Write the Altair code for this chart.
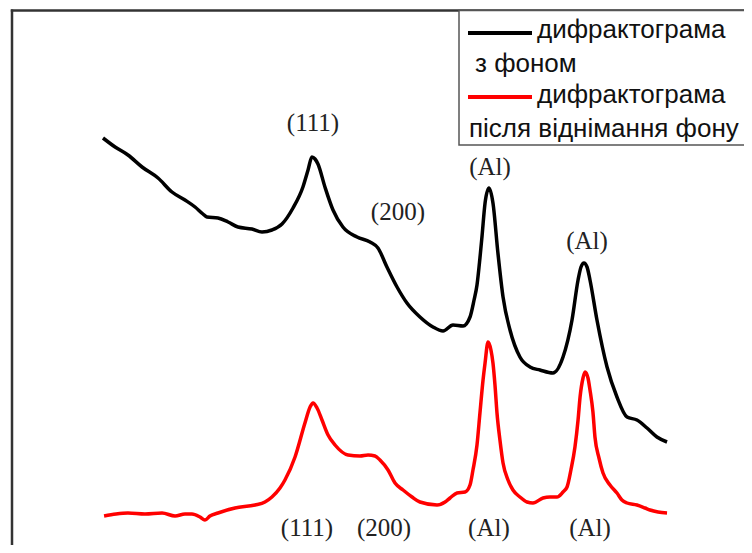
import altair as alt
import pandas as pd

# 2-theta (deg) and intensity (a.u.)
black_2theta = [13.87, 14.65, 15.48, 16.39, 17.42, 18.32, 19.16, 19.81, 20.32, 20.58, 21.29, 21.94,
                22.58, 23.48, 24.13, 24.77, 25.42, 26.13, 26.77, 27.10, 27.35, 27.55, 27.74, 28.19,
                28.71, 29.35, 30.26, 31.10, 31.61, 32.19, 32.84, 33.48, 34.32, 35.16, 35.81, 36.45,
                37.10, 37.55, 37.81, 38.00, 38.19, 38.32, 38.52, 38.77, 39.03, 39.35, 39.68, 40.13,
                40.77, 41.42, 42.06, 42.90, 43.55, 44.13, 44.52, 44.71, 44.90, 45.10, 45.29, 45.74,
                46.39, 47.03, 47.68, 48.32, 48.97, 49.61, 50.26]
black_int = [407, 398, 390, 378, 367, 353, 345, 338, 331, 328, 327, 323,
             318, 316, 313, 315, 321, 337, 358, 375, 388, 386, 381, 358,
             335, 318, 308, 303, 297, 278, 258, 242, 228, 218, 214, 220,
             219, 228, 245, 260, 287, 308, 342, 357, 342, 292, 248, 215,
             188, 178, 175, 172, 188, 225, 265, 278, 282, 278, 265, 225,
             178, 148, 128, 125, 117, 108, 103]

red_2theta = [13.94, 14.71, 15.48, 16.58, 17.68, 18.52, 19.16, 19.61, 20.13, 20.45, 20.77, 21.29,
              22.39, 23.68, 24.32, 24.77, 25.29, 25.61, 26.26, 26.90, 27.23, 27.42, 27.68, 28.00,
              28.39, 28.84, 29.68, 30.45, 30.97, 31.42, 31.74, 32.26, 32.71, 33.23, 33.81, 34.32,
              35.42, 35.94, 36.26, 36.71, 37.23, 37.55, 37.74, 38.00, 38.19, 38.39, 38.52, 38.71,
              38.90, 39.03, 39.16, 39.29, 39.48, 39.68, 40.00, 40.32, 40.77, 41.23, 41.61, 42.26,
              42.71, 43.16, 43.55, 43.81, 44.06, 44.32, 44.52, 44.65, 44.84, 44.97, 45.16, 45.29,
              45.48, 45.61, 45.87, 46.13, 46.58, 47.03, 47.35, 47.68, 48.32, 48.84, 49.16, 49.68,
              50.26]
red_int = [29, 31, 32, 31, 32, 29, 31, 31, 28, 25, 29, 32,
           37, 40, 43, 48, 57, 65, 88, 122, 138, 142, 137, 125,
           110, 100, 90, 89, 90, 89, 85, 75, 62, 55, 48, 43,
           40, 43, 47, 52, 53, 60, 75, 100, 132, 165, 182, 203,
           195, 182, 160, 132, 105, 82, 65, 55, 48, 43, 42, 47,
           48, 48, 53, 58, 75, 98, 125, 148, 167, 173, 167, 155,
           133, 108, 87, 72, 60, 52, 45, 42, 40, 37, 35, 33,
           32]

label_text = ["(111)", "(200)", "(Al)", "(Al)", "(111)", "(200)", "(Al)", "(Al)"]
label_2theta = [27.42, 32.90, 38.84, 45.10, 27.03, 32.00, 38.77, 45.29]
label_int = [422, 333, 378, 304, 17, 17, 17, 17]

legend_lines = ["дифрактограма", "з фоном", "дифрактограма", "після віднімання фону"]

W, H = 736, 537
xs = alt.Scale(domain=[7.742, 55.226], nice=False, zero=False)
ys = alt.Scale(domain=[0, 537], nice=False, zero=False)

black_df = pd.DataFrame({"t": black_2theta, "i": black_int})
red_df = pd.DataFrame({"t": red_2theta, "i": red_int})
lab_df = pd.DataFrame({"t": label_2theta, "i": label_int, "txt": label_text})
one = pd.DataFrame({"a": [0]})

black = alt.Chart(black_df).mark_line(color="#000000", strokeWidth=3.5, strokeJoin="round",
                                       interpolate="monotone").encode(
    x=alt.X("t:Q", scale=xs, axis=None), y=alt.Y("i:Q", scale=ys, axis=None), order="t:Q")
red = alt.Chart(red_df).mark_line(color="#ff0000", strokeWidth=3.5, strokeJoin="round",
                                   interpolate="monotone").encode(
    x=alt.X("t:Q", scale=xs, axis=None), y=alt.Y("i:Q", scale=ys, axis=None), order="t:Q")
labels = alt.Chart(lab_df).mark_text(font="Liberation Serif", fontSize=25, color="#222222",
                                     baseline="middle", align="center").encode(
    x=alt.X("t:Q", scale=xs, axis=None), y=alt.Y("i:Q", scale=ys, axis=None), text="txt:N")

frame_left = alt.Chart(one).mark_rule(color="#333333", strokeWidth=2.5).encode(
    x=alt.value(4), y=alt.value(1.5), y2=alt.value(H + 20))
frame_top = alt.Chart(one).mark_rule(color="#333333", strokeWidth=2.5).encode(
    x=alt.value(2.8), x2=alt.value(W + 20), y=alt.value(2.5))

leg_box = alt.Chart(one).mark_rect(fill="white", stroke="#555555", strokeWidth=1.5).encode(
    x=alt.value(451), x2=alt.value(W + 30), y=alt.value(2.5), y2=alt.value(137))
leg_black = alt.Chart(one).mark_rule(color="#000000", strokeWidth=4).encode(
    x=alt.value(460), x2=alt.value(524), y=alt.value(25))
leg_red = alt.Chart(one).mark_rule(color="#ff0000", strokeWidth=4).encode(
    x=alt.value(460), x2=alt.value(524), y=alt.value(89))

def leg_text(txt, x, y):
    return alt.Chart(one).mark_text(text=txt, font="Liberation Sans", fontSize=26, color="#111111",
                                    align="left", baseline="alphabetic").encode(
        x=alt.value(x), y=alt.value(y))

t1 = leg_text(legend_lines[0], 529, 30)
t2 = leg_text(legend_lines[1], 467, 64)
t3 = leg_text(legend_lines[2], 529, 95)
t4 = leg_text(legend_lines[3], 461, 129)

chart = alt.layer(black, red, labels, frame_left, frame_top, leg_box, leg_black, leg_red,
                  t1, t2, t3, t4).properties(
    width=W, height=H, padding=0, background="white",
    autosize=alt.AutoSizeParams(type="none")
).configure_view(stroke=None)

chart.save("out.html", embed_options={"renderer": "svg", "actions": False})
